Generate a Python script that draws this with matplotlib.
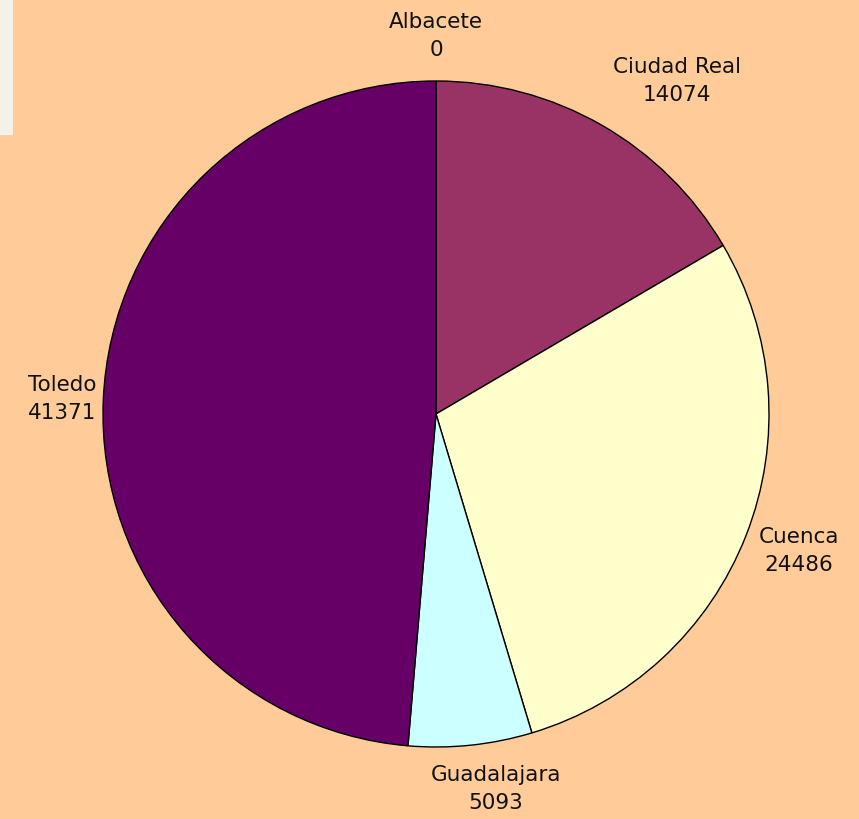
import matplotlib.pyplot as plt
import matplotlib.patches as mpatches

# data
provinces = ['Albacete', 'Ciudad Real', 'Cuenca', 'Guadalajara', 'Toledo']
values = [0, 14074, 24486, 5093, 41371]
colors = ['#FFFFFF', '#993366', '#FFFFCC', '#CCFFFF', '#660066']

# label centres in pixel coords (x, y from top)
label_pos = [(436, 36), (677, 81), (799, 551), (496, 789), (62, 399)]

W, H = 859, 819
fig = plt.figure(figsize=(W / 100, H / 100), dpi=100)
fig.patch.set_facecolor('#FFCC99')
ax = fig.add_axes([0, 0, 1, 1])

# light box in the top-left corner
ax.add_patch(mpatches.Rectangle((0, H - 135), 13, 135, fc='#F2F2E8',
                                ec='none', zorder=0))

ax.pie(values, colors=colors, startangle=90, counterclock=False,
       center=(436, H - 414), radius=333, frame=True,
       wedgeprops=dict(edgecolor='black', linewidth=1.0))
ax.set_xlim(0, W)
ax.set_ylim(0, H)
ax.set_aspect('equal')
ax.axis('off')

for name, v, (x, y) in zip(provinces, values, label_pos):
    ax.text(x, H - y, f'{name}\n{v}', ha='center', va='center',
            fontsize=15.5, color='#111111', linespacing=1.55,
            family='DejaVu Sans')

plt.savefig('out.png', dpi=100, facecolor=fig.get_facecolor())
